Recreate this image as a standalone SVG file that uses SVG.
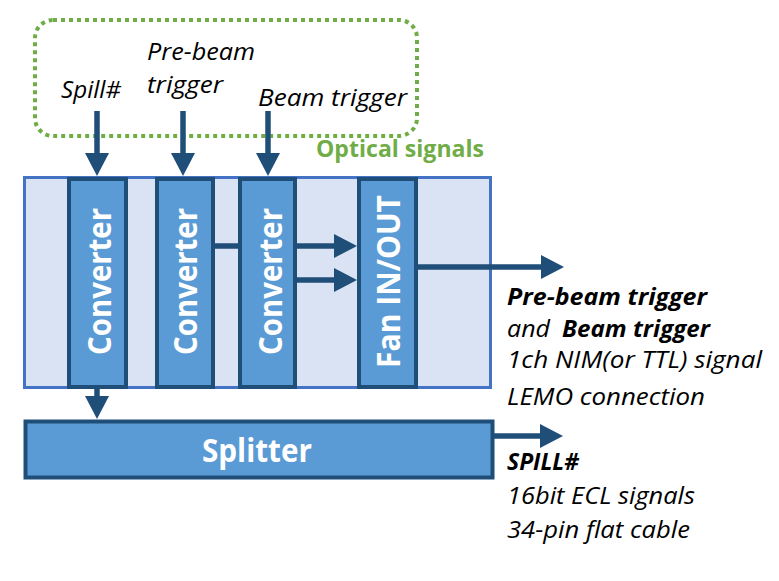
<svg xmlns="http://www.w3.org/2000/svg" width="779" height="581" viewBox="0 0 779 581">
  <style>
    .panel { fill: #DAE3F3; stroke: #4472C4; stroke-width: 3; }
    .box { fill: #5B9BD5; stroke: #1F4E79; stroke-width: 4; }
    .conn { stroke: #1F4E79; stroke-width: 5.5; fill: none; }
    .boxlabel { font-family: "Open Sans", "Liberation Sans", sans-serif; font-weight: bold; font-size: 32px; fill: #FFFFFF; }
    .it { font-family: "Open Sans", "Liberation Sans", sans-serif; font-style: italic; font-size: 24px; fill: #000000; }
    .bi { font-weight: bold; }
    .green { font-family: "Open Sans", "Liberation Sans", sans-serif; font-weight: bold; font-size: 23px; fill: #70AD47; }
  </style>
  <defs>
    <marker id="arrow" markerUnits="userSpaceOnUse" markerWidth="24" markerHeight="24" viewBox="0 0 24 24" refX="1" refY="12" orient="auto">
      <path d="M0,0 L23,12 L0,24 Z" fill="#1F4E79"/>
    </marker>
  </defs>

  <g id="optical-group">
    <rect x="35" y="20" width="382" height="116" rx="18" ry="18" fill="none" stroke="#70AD47" stroke-width="4" stroke-dasharray="4 4"/>
    <text class="green" x="316" y="157" textLength="168" lengthAdjust="spacingAndGlyphs">Optical signals</text>
  </g>

  <g id="labels-top">
    <text class="it" x="61" y="98" textLength="60" lengthAdjust="spacingAndGlyphs">Spill#</text>
    <text class="it" x="147" y="60" textLength="108" lengthAdjust="spacingAndGlyphs">Pre-beam</text>
    <text class="it" x="147" y="93" textLength="76" lengthAdjust="spacingAndGlyphs">trigger</text>
    <text class="it" x="258" y="106" textLength="149" lengthAdjust="spacingAndGlyphs">Beam trigger</text>
  </g>

  <g id="panel">
    <rect class="panel" x="24.5" y="177.5" width="466" height="210"/>
  </g>

  <g id="converter1">
    <rect class="box" x="69" y="179" width="57" height="208"/>
    <text class="boxlabel" x="110.5" y="281.5" text-anchor="middle" textLength="147" lengthAdjust="spacingAndGlyphs" transform="rotate(-90 110.5 281.5)">Converter</text>
  </g>
  <g id="converter2">
    <rect class="box" x="157" y="179" width="56" height="208"/>
    <text class="boxlabel" x="197" y="281.5" text-anchor="middle" textLength="147" lengthAdjust="spacingAndGlyphs" transform="rotate(-90 197 281.5)">Converter</text>
  </g>
  <g id="converter3">
    <rect class="box" x="240" y="179" width="55" height="208"/>
    <text class="boxlabel" x="282" y="281.5" text-anchor="middle" textLength="147" lengthAdjust="spacingAndGlyphs" transform="rotate(-90 282 281.5)">Converter</text>
  </g>
  <g id="fan-in-out">
    <rect class="box" x="359" y="179" width="57" height="208"/>
    <text class="boxlabel" x="400" y="281.5" text-anchor="middle" textLength="173" lengthAdjust="spacingAndGlyphs" transform="rotate(-90 400 281.5)">Fan IN/OUT</text>
  </g>
  <g id="splitter">
    <rect class="box" x="25.5" y="421.5" width="467" height="56"/>
    <text class="boxlabel" x="257" y="462" text-anchor="middle" textLength="110" lengthAdjust="spacingAndGlyphs">Splitter</text>
  </g>

  <g id="connectors">
    <line class="conn" x1="97" y1="111" x2="97" y2="154" marker-end="url(#arrow)"/>
    <line class="conn" x1="183" y1="111" x2="183" y2="154" marker-end="url(#arrow)"/>
    <line class="conn" x1="268" y1="111" x2="268" y2="154" marker-end="url(#arrow)"/>
    <line class="conn" x1="215" y1="246" x2="238" y2="246"/>
    <line class="conn" x1="297" y1="246" x2="335" y2="246" marker-end="url(#arrow)"/>
    <line class="conn" x1="297" y1="280" x2="335" y2="280" marker-end="url(#arrow)"/>
    <line class="conn" x1="418" y1="267" x2="542" y2="267" marker-end="url(#arrow)"/>
    <line class="conn" x1="97" y1="389" x2="97" y2="397" marker-end="url(#arrow)"/>
    <line class="conn" x1="494" y1="436" x2="541" y2="436" marker-end="url(#arrow)"/>
  </g>

  <g id="labels-right">
    <text class="it bi" x="507" y="305" textLength="200" lengthAdjust="spacingAndGlyphs">Pre-beam trigger</text>
    <text class="it" y="337"><tspan x="507" textLength="43" lengthAdjust="spacingAndGlyphs">and</tspan><tspan class="bi" x="562" textLength="148" lengthAdjust="spacingAndGlyphs">Beam trigger</tspan></text>
    <text class="it" x="507" y="368" textLength="255" lengthAdjust="spacingAndGlyphs">1ch NIM(or TTL) signal</text>
    <text class="it" x="507" y="405" textLength="198" lengthAdjust="spacingAndGlyphs">LEMO connection</text>
    <text class="it bi" x="507" y="470" textLength="72" lengthAdjust="spacingAndGlyphs">SPILL#</text>
    <text class="it" x="507" y="504" textLength="188" lengthAdjust="spacingAndGlyphs">16bit ECL signals</text>
    <text class="it" x="507" y="538" textLength="183" lengthAdjust="spacingAndGlyphs">34-pin flat cable</text>
  </g>
</svg>
